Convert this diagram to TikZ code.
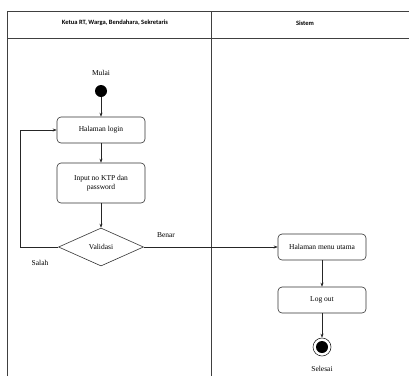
\documentclass[tikz,border=0pt]{standalone}
\usepackage{fontspec}
\setmainfont{Liberation Serif}
\newfontfamily\headfont{Carlito}
\usepackage{tikz}
\usetikzlibrary{arrows.meta}
\usetikzlibrary{shapes.geometric}
\tikzset{>={Stealth[length=4pt, width=3pt]}}

\begin{document}
\begin{tikzpicture}[
	x=1pt, y=-1pt,
	lane/.style = {
		draw=black!75, line width=0.6pt
	},
	head/.style = {
		font=\headfont\bfseries\fontsize{6.5}{8}\selectfont
	},
	activity/.style = {
		rectangle, rounded corners=4pt, draw=black!80,
		line width=0.6pt,
		align=center,
		minimum width=88pt, minimum height=26pt,
		font=\fontsize{7.5}{9.5}\selectfont
	},
	decision/.style = {
		diamond, draw=black!80, line width=0.6pt,
		inner sep=0pt,
		minimum width=85pt, minimum height=38pt,
		font=\fontsize{7.5}{9.5}\selectfont
	},
	caption/.style = {
		font=\fontsize{7.5}{9.5}\selectfont
	},
	flow/.style = {
		->, draw=black!85, line width=0.5pt
	}
]
	\useasboundingbox (0,0) rectangle (409,376);
	% Swimlanes
	\draw[lane] (7,376) -- (7,11) -- (409,11);
	\draw[lane] (7,38) -- (409,38);
	\draw[lane] (211,11) -- (211,376);
	\node[head] (lane1) at (115,23) {Ketua RT, Warga, Bendahara, Sekretaris};
	\node[head] (lane2) at (305,23) {Sistem};
	% Start
	\node[caption] (mulai) at (101,73) {Mulai};
	\node[circle, fill=black, minimum size=12pt, inner sep=0pt] (start) at (101,91) {};
	% Login
	\node[activity] (login) at (101,130) {Halaman login};
	\node[activity, minimum height=40pt] (input) at (101,183) {Input no KTP dan\\password};
	\node[decision] (validasi) at (101,247) {Validasi};
	\node[caption] (salah) at (40,263) {Salah};
	\node[caption] (benar) at (166,235) {Benar};
	\coordinate (salahturn) at (20,247);
	% Sistem
	\node[activity] (menu) at (322,247) {Halaman menu utama};
	\node[activity] (logout) at (322,300) {Log out};
	\node[circle, draw=black!85, line width=0.6pt, minimum size=18pt, inner sep=0pt] (end) at (322,347) {};
	\node[circle, fill=black, minimum size=12pt, inner sep=0pt] (endcore) at (end) {};
	\node[caption] (selesai) at (322,369) {Selesai};
	% Connections
	\draw[flow] (start) -- (login);
	\draw[flow] (login) -- (input);
	\draw[flow] (input) -- (validasi);
	\draw[flow] (validasi.west) -- (salahturn) |- (login.west);
	\draw[flow] (validasi.east) -- (menu.west);
	\draw[flow] (menu) -- (logout);
	\draw[flow] (logout) -- (end);
\end{tikzpicture}
\end{document}
